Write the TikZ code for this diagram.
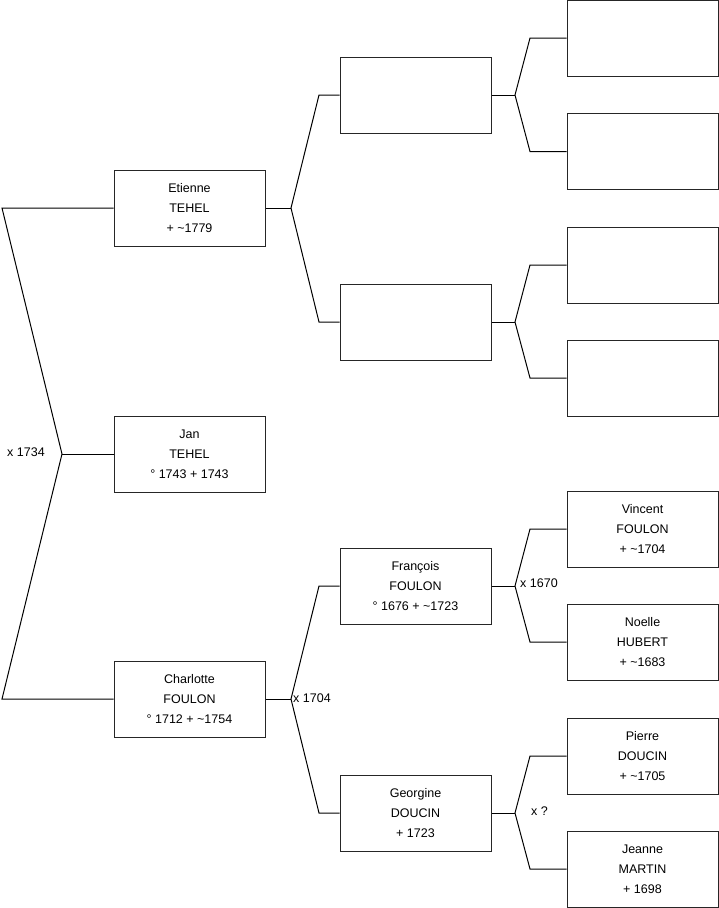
\documentclass[tikz,border=0pt]{standalone}
\usepackage{fontspec}
\setmainfont{Liberation Sans}
\begin{document}
\begin{tikzpicture}[x=1pt,y=-1pt,
  person/.style={draw=black!85, line width=1pt, rectangle, minimum width=151pt, minimum height=76pt,
    inner sep=0pt, align=center, font=\fontsize{12.5}{20}\selectfont},
  link/.style={draw=black, line width=1pt},
  mar/.style={font=\fontsize{12.5}{15}\selectfont, inner sep=0pt}]
\useasboundingbox (0,0) rectangle (719,908);
% column 1
\node[person] (etienne) at (189.5,208) {Etienne\\TEHEL\\ + \textasciitilde1779};
\node[person] (jan) at (189.5,454) {Jan\\TEHEL\\° 1743 + 1743};
\node[person] (charlotte) at (189.5,699) {Charlotte\\FOULON\\° 1712 + \textasciitilde1754};
% column 2
\node[person] (p2a) at (415.5,95) {};
\node[person] (p2b) at (415.5,322) {};
\node[person] (francois) at (415.5,586) {François\\FOULON\\° 1676 + \textasciitilde1723};
\node[person] (georgine) at (415.5,813) {Georgine\\DOUCIN\\ + 1723};
% column 3
\node[person] (p3a) at (642.5,38) {};
\node[person] (p3b) at (642.5,151.5) {};
\node[person] (p3c) at (642.5,265) {};
\node[person] (p3d) at (642.5,378) {};
\node[person] (vincent) at (642.5,529) {Vincent\\FOULON\\ + \textasciitilde1704};
\node[person] (noelle) at (642.5,642) {Noelle\\HUBERT\\ + \textasciitilde1683};
\node[person] (pierre) at (642.5,756) {Pierre\\DOUCIN\\ + \textasciitilde1705};
\node[person] (jeanne) at (642.5,869) {Jeanne\\MARTIN\\ + 1698};
% fork coordinates
\coordinate (f0) at (62,454);
\coordinate (f0a) at (2,208);
\coordinate (f0b) at (2,699);
\coordinate (f1) at (291,208);
\coordinate (f1a) at (319,95);
\coordinate (f1b) at (319,322);
\coordinate (f2) at (291,699);
\coordinate (f2a) at (319,586);
\coordinate (f2b) at (319,813);
\coordinate (g1) at (515,95);
\coordinate (g1a) at (530,38);
\coordinate (g1b) at (530,151.5);
\coordinate (g2) at (515,322);
\coordinate (g2a) at (530,265);
\coordinate (g2b) at (530,378);
\coordinate (g3) at (515,586);
\coordinate (g3a) at (530,529);
\coordinate (g3b) at (530,642);
\coordinate (g4) at (515,813);
\coordinate (g4a) at (530,756);
\coordinate (g4b) at (530,869);
% connectors
\draw[link] (etienne.west) -- (f0a) -- (f0) -- (f0b) -- (charlotte.west);
\draw[link] (f0) -- (jan.west);
\draw[link] (p2a.west) -- (f1a) -- (f1) -- (f1b) -- (p2b.west);
\draw[link] (f1) -- (etienne.east);
\draw[link] (francois.west) -- (f2a) -- (f2) -- (f2b) -- (georgine.west);
\draw[link] (f2) -- (charlotte.east);
\draw[link] (p3a.west) -- (g1a) -- (g1) -- (g1b) -- (p3b.west);
\draw[link] (g1) -- (p2a.east);
\draw[link] (p3c.west) -- (g2a) -- (g2) -- (g2b) -- (p3d.west);
\draw[link] (g2) -- (p2b.east);
\draw[link] (vincent.west) -- (g3a) -- (g3) -- (g3b) -- (noelle.west);
\draw[link] (g3) -- (francois.east);
\draw[link] (pierre.west) -- (g4a) -- (g4) -- (g4b) -- (jeanne.west);
\draw[link] (g4) -- (georgine.east);
% marriage labels
\node[mar, anchor=west] (m0) at (7,452) {x 1734};
\node[mar, anchor=west] (m1) at (293,698) {x 1704};
\node[mar, anchor=west] (m2) at (520,583) {x 1670};
\node[mar, anchor=west] (m3) at (531,811) {x ?};
\end{tikzpicture}
\end{document}
